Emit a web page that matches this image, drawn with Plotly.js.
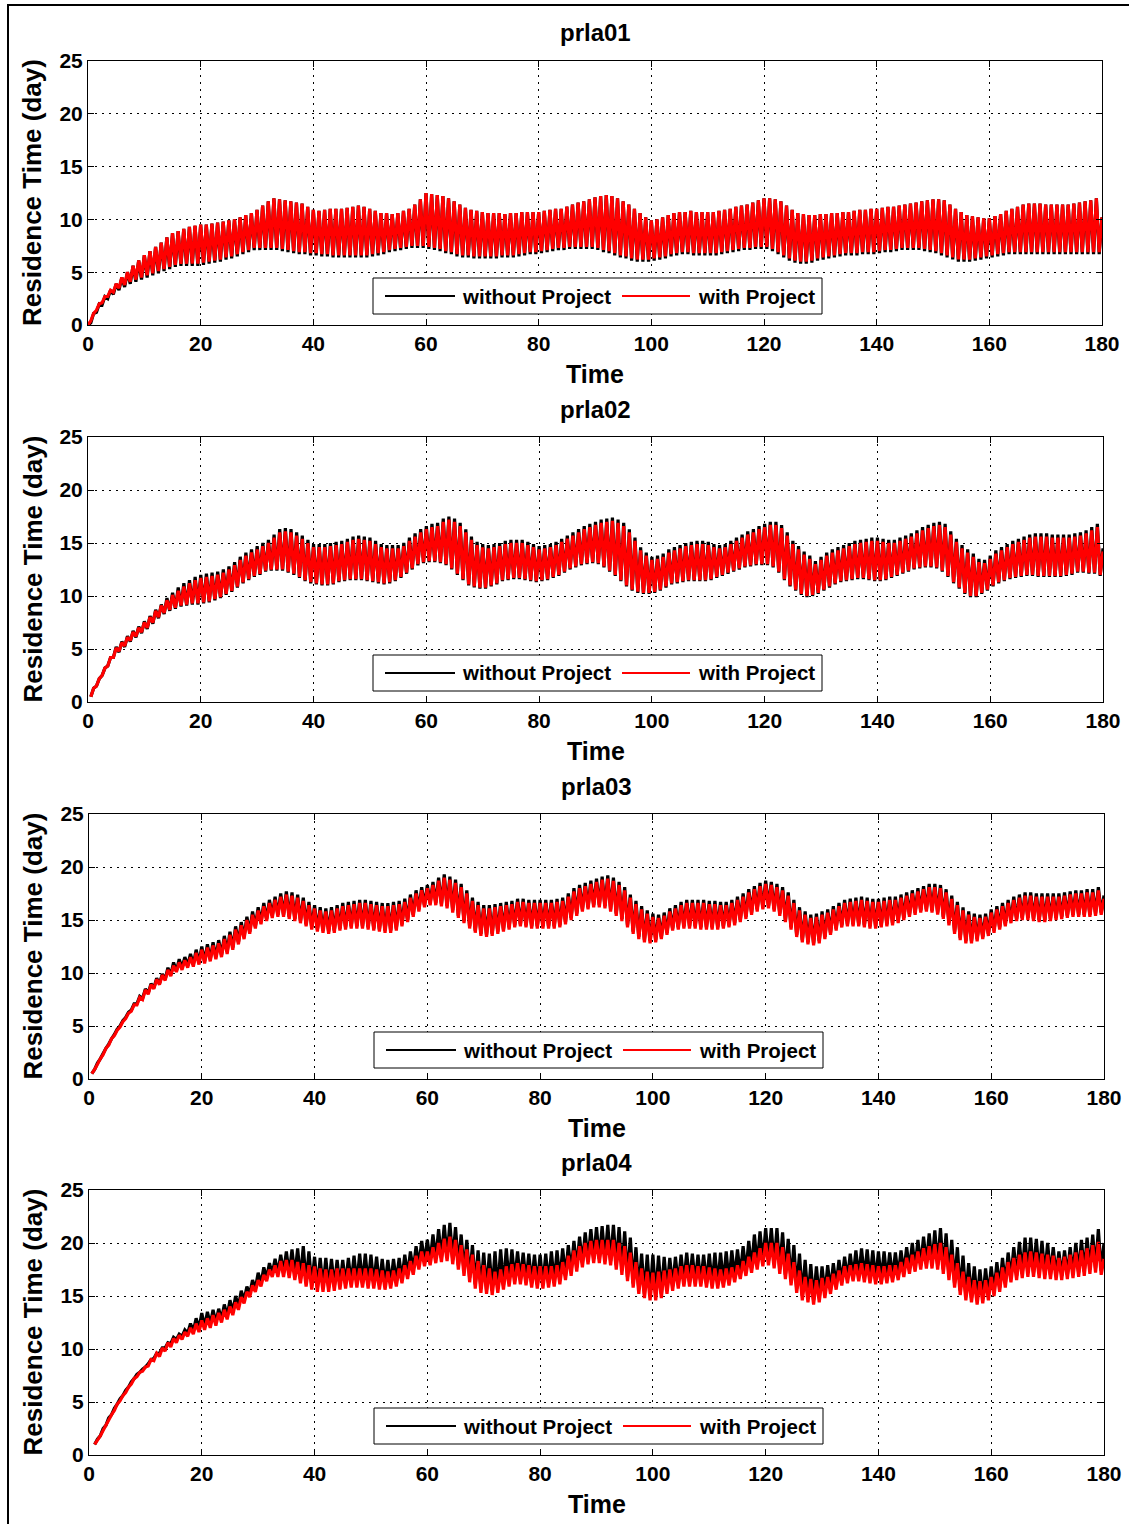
<!DOCTYPE html>
<html>
<head>
<meta charset="utf-8">
<script src="https://cdn.plot.ly/plotly-3.0.1.min.js"></script>
<style>
html,body{margin:0;padding:0;background:#fff;}
#wrap{position:relative;width:1129px;height:1524px;overflow:hidden;}
#chart{position:absolute;left:0;top:0;width:1129px;height:1524px;}
#frame{position:absolute;left:7px;top:4px;width:1140px;height:1540px;border-left:2px solid #000;border-top:2px solid #000;pointer-events:none;}
</style>
</head>
<body>
<div id="wrap"><div id="chart"></div><div id="frame"></div></div>
<script>
// ---------------- data ----------------
const panelTitles = ["prla01", "prla02", "prla03", "prla04"];
const seriesNames = ["without Project", "with Project"];
const xTicks = [0, 20, 40, 60, 80, 100, 120, 140, 160, 180];
const yTicks = [0, 5, 10, 15, 20, 25];

// daily maxima (t = 0..180) and half-day minima (t = 0.5..179.5)
const p1WithHi = [0,1.1,2.0,2.7,3.3,3.9,4.5,5.0,5.6,6.1,6.6,
7.0,7.4,7.8,8.3,8.7,8.9,9.1,9.3,9.4,9.5,
9.5,9.6,9.7,9.8,9.9,10.0,10.2,10.4,10.6,10.9,
11.3,11.7,12.0,11.9,11.8,11.7,11.6,11.5,11.2,10.9,
10.8,10.9,11.0,11.0,11.0,11.1,11.2,11.3,11.2,11.0,
10.8,10.6,10.6,10.5,10.6,10.8,11.0,11.4,11.9,12.5,
12.4,12.3,12.2,12.0,11.7,11.4,11.1,10.9,10.8,10.7,
10.6,10.6,10.6,10.5,10.6,10.6,10.7,10.7,10.7,10.7,
10.8,10.9,11.0,11.0,11.2,11.4,11.6,11.7,11.9,12.1,
12.2,12.3,12.2,12.0,11.7,11.4,11.0,10.6,10.2,9.9,
10.0,10.2,10.4,10.6,10.7,10.7,10.8,10.7,10.7,10.7,
10.7,10.8,10.9,11.0,11.2,11.3,11.4,11.6,11.8,12.0,
12.0,11.9,11.7,11.3,10.9,10.6,10.5,10.4,10.4,10.5,
10.5,10.6,10.6,10.7,10.7,10.8,10.9,10.9,11.0,11.0,
11.1,11.2,11.2,11.3,11.4,11.5,11.6,11.7,11.8,11.9,
11.9,11.8,11.4,11.0,10.7,10.4,10.3,10.2,10.1,10.1,
10.3,10.5,10.8,11.0,11.2,11.4,11.5,11.5,11.5,11.4,
11.4,11.4,11.4,11.4,11.5,11.6,11.7,11.8,12.0,10.2];
const p1WithLo = [0.4,1.4,2.1,2.7,3.1,3.5,3.8,4.1,4.3,4.5,
4.7,4.9,5.1,5.3,5.5,5.7,5.8,5.8,5.8,5.8,
5.9,6.0,6.1,6.2,6.4,6.5,6.7,6.9,7.1,7.3,
7.3,7.3,7.3,7.3,7.2,7.1,7.0,6.9,6.9,6.8,
6.8,6.7,6.7,6.6,6.6,6.6,6.6,6.6,6.6,6.6,
6.7,6.8,6.9,7.1,7.2,7.3,7.4,7.5,7.5,7.5,
7.4,7.3,7.2,7.0,6.9,6.7,6.6,6.6,6.5,6.5,
6.5,6.5,6.5,6.6,6.6,6.6,6.7,6.8,6.9,6.9,
7.0,7.1,7.2,7.3,7.3,7.4,7.4,7.4,7.4,7.4,
7.3,7.1,7.0,6.8,6.6,6.5,6.3,6.2,6.2,6.2,
6.3,6.4,6.5,6.7,6.8,6.9,6.9,6.8,6.8,6.8,
6.8,6.8,6.9,7.0,7.1,7.2,7.3,7.3,7.4,7.4,
7.4,7.2,6.9,6.6,6.3,6.1,6.0,6.0,6.1,6.3,
6.4,6.5,6.6,6.7,6.8,6.8,6.8,6.9,6.9,6.9,
7.0,7.1,7.1,7.2,7.3,7.3,7.3,7.3,7.2,7.1,
7.0,6.8,6.6,6.4,6.2,6.2,6.2,6.3,6.4,6.5,
6.6,6.7,6.8,6.9,6.9,6.9,6.9,6.9,6.9,6.9,
6.9,6.9,6.9,6.9,6.9,6.9,6.9,6.9,6.9,6.9];
const p1WithoutHi = [0,1.1,2.0,2.7,3.3,3.9,4.5,5.0,5.6,6.1,6.6,
7.0,7.4,7.8,8.3,8.7,8.9,9.1,9.3,9.4,9.5,
9.5,9.6,9.7,9.8,9.9,10.0,10.2,10.4,10.6,10.9,
11.3,11.7,12.0,11.9,11.8,11.7,11.6,11.5,11.2,10.9,
10.8,10.9,11.0,11.0,11.0,11.1,11.2,11.3,11.2,11.0,
10.8,10.6,10.6,10.5,10.6,10.8,11.0,11.4,11.9,12.5,
12.4,12.3,12.2,12.0,11.7,11.4,11.1,10.9,10.8,10.7,
10.6,10.6,10.6,10.5,10.6,10.6,10.7,10.7,10.7,10.7,
10.8,10.9,11.0,11.0,11.2,11.4,11.6,11.7,11.9,12.1,
12.2,12.3,12.2,12.0,11.7,11.4,11.0,10.6,10.2,9.9,
10.0,10.2,10.4,10.6,10.7,10.7,10.8,10.7,10.7,10.7,
10.7,10.8,10.9,11.0,11.2,11.3,11.4,11.6,11.8,12.0,
12.0,11.9,11.7,11.3,10.9,10.6,10.5,10.4,10.4,10.5,
10.5,10.6,10.6,10.7,10.7,10.8,10.9,10.9,11.0,11.0,
11.1,11.2,11.2,11.3,11.4,11.5,11.6,11.7,11.8,11.9,
11.9,11.8,11.4,11.0,10.7,10.4,10.3,10.2,10.1,10.1,
10.3,10.5,10.8,11.0,11.2,11.4,11.5,11.5,11.5,11.4,
11.4,11.4,11.4,11.4,11.5,11.6,11.7,11.8,12.0,10.2];
const p1WithoutLo = [0.2,1.2,1.9,2.5,2.9,3.3,3.6,3.9,4.1,4.3,
4.5,4.7,4.9,5.1,5.3,5.5,5.6,5.6,5.6,5.6,
5.7,5.8,5.9,6.0,6.2,6.3,6.5,6.7,6.9,7.1,
7.1,7.1,7.1,7.1,7.0,6.9,6.8,6.7,6.7,6.6,
6.6,6.5,6.5,6.4,6.4,6.4,6.4,6.4,6.4,6.4,
6.5,6.6,6.7,6.9,7.0,7.1,7.2,7.3,7.3,7.3,
7.2,7.1,7.0,6.8,6.7,6.5,6.4,6.4,6.3,6.3,
6.3,6.3,6.3,6.4,6.4,6.4,6.5,6.6,6.7,6.7,
6.8,6.9,7.0,7.1,7.1,7.2,7.2,7.2,7.2,7.2,
7.1,6.9,6.8,6.6,6.4,6.3,6.1,6.0,6.0,6.0,
6.1,6.2,6.3,6.5,6.6,6.7,6.7,6.6,6.6,6.6,
6.6,6.6,6.7,6.8,6.9,7.0,7.1,7.1,7.2,7.2,
7.2,7.0,6.7,6.4,6.1,5.9,5.8,5.8,5.9,6.1,
6.2,6.3,6.4,6.5,6.6,6.6,6.6,6.7,6.7,6.7,
6.8,6.9,6.9,7.0,7.1,7.1,7.1,7.1,7.0,6.9,
6.8,6.6,6.4,6.2,6.0,6.0,6.0,6.1,6.2,6.3,
6.4,6.5,6.6,6.7,6.7,6.7,6.7,6.7,6.7,6.7,
6.7,6.7,6.7,6.7,6.7,6.7,6.7,6.7,6.7,6.7];

const p2WithoutHi = [null,1.3,2.2,3.2,4.2,5.2,5.7,6.2,6.7,7.1,7.6,
8.1,8.7,9.2,9.8,10.3,10.8,11.2,11.5,11.8,12.0,
12.1,12.2,12.3,12.5,12.8,13.2,13.7,14.1,14.4,14.7,
15.0,15.3,15.8,16.3,16.4,16.3,16.0,15.7,15.3,14.9,
14.9,14.9,15.0,15.1,15.2,15.4,15.6,15.7,15.6,15.5,
15.2,14.9,14.8,14.8,14.8,15.0,15.5,15.9,16.3,16.6,
16.8,16.9,17.3,17.5,17.3,16.9,16.3,15.6,15.1,14.9,
14.8,14.9,15.0,15.2,15.3,15.3,15.3,15.1,14.9,14.7,
14.8,14.9,15.1,15.4,15.7,16.0,16.3,16.6,16.8,17.0,
17.2,17.3,17.4,17.2,16.9,16.3,15.5,14.6,14.1,13.7,
13.8,14.0,14.4,14.6,14.8,15.0,15.1,15.2,15.2,15.1,
14.9,14.8,14.9,15.2,15.5,15.8,16.1,16.3,16.6,16.8,
17.0,17.0,16.7,16.0,15.2,14.7,14.2,13.8,13.3,13.7,
14.1,14.4,14.6,14.8,15.0,15.2,15.3,15.4,15.5,15.5,
15.4,15.3,15.3,15.5,15.7,15.9,16.2,16.5,16.7,16.9,
17.0,16.8,16.1,15.4,14.8,14.4,14.0,13.5,13.4,13.8,
14.3,14.6,14.9,15.2,15.4,15.6,15.8,15.9,15.9,15.9,
15.8,15.8,15.8,15.8,15.9,16.0,16.2,16.5,16.8,14.5];
const p2WithoutLo = [0.5,1.5,2.5,3.4,4.2,4.7,5.2,5.7,6.1,6.5,
6.9,7.4,7.9,8.3,8.6,8.8,9.0,9.1,9.2,9.2,
9.3,9.4,9.6,9.8,10.1,10.4,10.8,11.2,11.5,11.8,
12.0,12.3,12.4,12.4,12.4,12.2,12.0,11.7,11.4,11.2,
11.1,11.0,11.0,11.1,11.3,11.4,11.5,11.5,11.5,11.4,
11.3,11.2,11.1,11.2,11.4,11.7,12.1,12.5,12.9,13.1,
13.2,13.2,13.1,12.9,12.5,12.0,11.5,11.0,10.8,10.7,
10.7,10.9,11.1,11.4,11.5,11.6,11.6,11.5,11.4,11.3,
11.4,11.5,11.7,11.9,12.2,12.5,12.7,12.9,13.0,13.1,
13.0,12.7,12.3,11.9,11.4,10.9,10.5,10.3,10.2,10.2,
10.3,10.5,10.8,11.1,11.2,11.3,11.4,11.4,11.4,11.4,
11.5,11.7,11.9,12.1,12.3,12.5,12.7,12.8,12.9,12.9,
12.9,12.7,12.2,11.5,10.9,10.5,10.1,9.9,10.0,10.2,
10.5,10.8,11.1,11.3,11.4,11.5,11.6,11.6,11.5,11.4,
11.4,11.5,11.7,11.9,12.1,12.3,12.5,12.6,12.7,12.7,
12.6,12.3,11.8,11.2,10.7,10.2,9.9,9.9,10.2,10.5,
10.9,11.2,11.4,11.6,11.7,11.8,11.9,11.9,11.8,11.8,
11.8,11.8,11.8,11.9,12.0,12.2,12.2,12.1,12.1,11.9];
const p2WithHi = [null,1.3,2.2,3.2,4.2,5.1,5.6,6.1,6.6,7.0,7.5,
8.0,8.6,9.1,9.6,10.1,10.5,10.9,11.2,11.5,11.7,
11.8,11.9,12.0,12.2,12.5,12.9,13.4,13.8,14.1,14.4,
14.7,15.0,15.5,16.0,16.1,16.0,15.7,15.4,15.0,14.6,
14.6,14.6,14.7,14.8,14.9,15.1,15.3,15.4,15.3,15.2,
14.9,14.6,14.5,14.5,14.5,14.7,15.2,15.6,16.0,16.3,
16.5,16.6,17.0,17.2,17.0,16.6,16.0,15.3,14.8,14.6,
14.5,14.6,14.7,14.9,15.0,15.0,15.0,14.8,14.6,14.4,
14.5,14.6,14.8,15.1,15.4,15.7,16.0,16.3,16.5,16.7,
16.9,17.0,17.1,16.9,16.6,16.0,15.2,14.3,13.8,13.4,
13.5,13.7,14.1,14.3,14.5,14.7,14.8,14.9,14.9,14.8,
14.6,14.5,14.6,14.9,15.2,15.5,15.8,16.0,16.3,16.5,
16.7,16.7,16.4,15.7,14.9,14.4,13.9,13.5,13.0,13.4,
13.8,14.1,14.3,14.5,14.7,14.9,15.0,15.1,15.2,15.2,
15.1,15.0,15.0,15.2,15.4,15.6,15.9,16.2,16.4,16.6,
16.7,16.5,15.8,15.1,14.5,14.1,13.7,13.2,13.1,13.5,
14.0,14.3,14.6,14.9,15.1,15.3,15.5,15.6,15.6,15.6,
15.5,15.5,15.5,15.5,15.6,15.7,15.9,16.2,16.5,14.2];
const p2WithLo = [0.5,1.5,2.5,3.4,4.2,4.8,5.3,5.8,6.2,6.6,
7.0,7.5,8.0,8.4,8.7,8.9,9.1,9.2,9.3,9.3,
9.4,9.5,9.7,9.9,10.2,10.5,10.9,11.3,11.6,11.9,
12.1,12.4,12.5,12.5,12.5,12.3,12.1,11.8,11.5,11.3,
11.2,11.1,11.1,11.2,11.4,11.5,11.6,11.6,11.6,11.5,
11.4,11.3,11.2,11.3,11.5,11.8,12.2,12.6,13.0,13.2,
13.3,13.3,13.2,13.0,12.6,12.1,11.6,11.1,10.9,10.8,
10.8,11.0,11.2,11.5,11.6,11.7,11.7,11.6,11.5,11.4,
11.5,11.6,11.8,12.0,12.3,12.6,12.8,13.0,13.1,13.2,
13.1,12.8,12.4,12.0,11.5,11.0,10.6,10.4,10.3,10.3,
10.4,10.6,10.9,11.2,11.3,11.4,11.5,11.5,11.5,11.5,
11.6,11.8,12.0,12.2,12.4,12.6,12.8,12.9,13.0,13.0,
13.0,12.8,12.3,11.6,11.0,10.6,10.2,10.0,10.1,10.3,
10.6,10.9,11.2,11.4,11.5,11.6,11.7,11.7,11.6,11.5,
11.5,11.6,11.8,12.0,12.2,12.4,12.6,12.7,12.8,12.8,
12.7,12.4,11.9,11.3,10.8,10.3,10.0,10.0,10.3,10.6,
11.0,11.3,11.5,11.7,11.8,11.9,12.0,12.0,11.9,11.9,
11.9,11.9,11.9,12.0,12.1,12.3,12.3,12.2,12.2,12.0];

const p3WithoutHi = [null,0.9,1.9,2.9,3.8,4.7,5.5,6.3,7.1,7.8,8.5,
9.0,9.5,9.9,10.5,11.0,11.3,11.5,11.8,12.2,12.5,
12.7,12.9,13.1,13.5,13.9,14.4,14.8,15.3,15.8,16.2,
16.6,16.9,17.2,17.5,17.7,17.6,17.4,17.1,16.7,16.4,
16.2,16.1,16.2,16.4,16.6,16.7,16.8,16.9,16.9,16.8,
16.7,16.6,16.6,16.7,16.8,17.0,17.4,17.8,18.1,18.3,
18.6,19.0,19.3,19.1,18.8,18.4,17.8,17.1,16.7,16.4,
16.4,16.5,16.6,16.7,16.8,17.0,17.0,16.9,16.9,16.9,
16.9,16.9,17.0,17.1,17.5,18.0,18.3,18.5,18.7,18.9,
19.1,19.2,19.0,18.6,18.1,17.4,16.8,16.3,15.9,15.6,
15.5,15.7,16.1,16.4,16.7,16.9,16.9,16.9,16.9,16.8,
16.8,16.7,16.7,16.9,17.2,17.5,17.9,18.2,18.5,18.7,
18.6,18.4,18.1,17.6,16.9,16.2,15.8,15.5,15.6,15.8,
16.0,16.3,16.6,16.9,17.0,17.1,17.2,17.1,17.0,17.0,
17.1,17.2,17.2,17.4,17.6,17.8,18.0,18.2,18.4,18.4,
18.3,17.9,17.3,16.7,16.2,15.8,15.6,15.5,15.6,16.0,
16.3,16.6,16.9,17.2,17.4,17.6,17.6,17.5,17.5,17.5,
17.5,17.5,17.6,17.7,17.8,17.8,17.9,17.9,18.1,17.3];
const p3WithoutLo = [0.5,1.5,2.4,3.3,4.2,5.0,5.8,6.5,7.1,7.6,
8.1,8.6,9.0,9.4,9.8,10.2,10.5,10.7,10.8,11.0,
11.1,11.3,11.5,11.7,12.0,12.4,12.9,13.4,13.9,14.4,
14.8,15.1,15.4,15.5,15.5,15.3,15.1,14.9,14.6,14.3,
14.1,14.0,13.9,14.0,14.2,14.3,14.4,14.4,14.4,14.3,
14.2,14.1,14.0,14.0,14.2,14.6,15.0,15.5,16.0,16.4,
16.6,16.6,16.5,16.3,15.9,15.4,14.9,14.4,14.0,13.7,
13.6,13.7,13.9,14.1,14.3,14.5,14.6,14.5,14.4,14.4,
14.4,14.4,14.4,14.5,14.8,15.2,15.6,16.0,16.2,16.4,
16.4,16.3,16.0,15.6,15.1,14.5,13.9,13.4,13.1,13.0,
13.1,13.4,13.8,14.2,14.3,14.4,14.4,14.4,14.3,14.3,
14.3,14.3,14.4,14.5,14.7,15.0,15.3,15.7,16.0,16.2,
16.3,16.0,15.6,15.0,14.3,13.6,13.1,12.9,12.8,13.0,
13.4,13.8,14.2,14.5,14.6,14.6,14.6,14.5,14.4,14.4,
14.5,14.6,14.7,14.9,15.2,15.5,15.7,15.9,16.0,15.9,
15.7,15.3,14.7,13.9,13.3,13.0,13.0,13.2,13.4,13.7,
14.0,14.3,14.6,14.9,15.1,15.2,15.2,15.1,15.0,15.0,
15.1,15.2,15.3,15.4,15.5,15.5,15.5,15.5,15.6,15.7];
const p3WithHi = [null,0.9,1.9,2.9,3.8,4.6,5.4,6.2,7.0,7.7,8.4,
8.9,9.4,9.8,10.3,10.7,11.0,11.2,11.5,11.9,12.2,
12.4,12.6,12.8,13.2,13.6,14.1,14.5,15.0,15.5,15.9,
16.3,16.6,16.9,17.2,17.4,17.3,17.1,16.8,16.4,16.1,
15.9,15.8,15.9,16.1,16.3,16.4,16.5,16.6,16.6,16.5,
16.4,16.3,16.3,16.4,16.5,16.7,17.1,17.5,17.8,18.0,
18.3,18.7,19.0,18.8,18.5,18.1,17.5,16.8,16.4,16.1,
16.1,16.2,16.3,16.4,16.5,16.7,16.7,16.6,16.6,16.6,
16.6,16.6,16.7,16.8,17.2,17.7,18.0,18.2,18.4,18.6,
18.8,18.9,18.7,18.3,17.8,17.1,16.5,16.0,15.6,15.3,
15.2,15.4,15.8,16.1,16.4,16.6,16.6,16.6,16.6,16.5,
16.5,16.4,16.4,16.6,16.9,17.2,17.6,17.9,18.2,18.4,
18.3,18.1,17.8,17.3,16.6,15.9,15.5,15.2,15.3,15.5,
15.7,16.0,16.3,16.6,16.7,16.8,16.9,16.8,16.7,16.7,
16.8,16.9,16.9,17.1,17.3,17.5,17.7,17.9,18.1,18.1,
18.0,17.6,17.0,16.4,15.9,15.5,15.3,15.2,15.3,15.7,
16.0,16.3,16.6,16.9,17.1,17.3,17.3,17.2,17.2,17.2,
17.2,17.2,17.3,17.4,17.5,17.5,17.6,17.6,17.8,17.0];
const p3WithLo = [0.5,1.4,2.3,3.2,4.1,4.9,5.7,6.4,7.0,7.5,
8.0,8.5,8.9,9.3,9.7,10.1,10.3,10.5,10.6,10.8,
10.9,11.1,11.3,11.5,11.8,12.2,12.7,13.2,13.7,14.2,
14.6,14.9,15.2,15.3,15.3,15.1,14.9,14.7,14.4,14.1,
13.9,13.8,13.7,13.8,14.0,14.1,14.2,14.2,14.2,14.1,
14.0,13.9,13.8,13.8,14.0,14.4,14.8,15.3,15.8,16.2,
16.4,16.4,16.3,16.1,15.7,15.2,14.7,14.2,13.8,13.5,
13.4,13.5,13.7,13.9,14.1,14.3,14.4,14.3,14.2,14.2,
14.2,14.2,14.2,14.3,14.6,15.0,15.4,15.8,16.0,16.2,
16.2,16.1,15.8,15.4,14.9,14.3,13.7,13.2,12.9,12.8,
12.9,13.2,13.6,14.0,14.1,14.2,14.2,14.2,14.1,14.1,
14.1,14.1,14.2,14.3,14.5,14.8,15.1,15.5,15.8,16.0,
16.1,15.8,15.4,14.8,14.1,13.4,12.9,12.7,12.6,12.8,
13.2,13.6,14.0,14.3,14.4,14.4,14.4,14.3,14.2,14.2,
14.3,14.4,14.5,14.7,15.0,15.3,15.5,15.7,15.8,15.7,
15.5,15.1,14.5,13.7,13.1,12.8,12.8,13.0,13.2,13.5,
13.8,14.1,14.4,14.7,14.9,15.0,15.0,14.9,14.8,14.8,
14.9,15.0,15.1,15.2,15.3,15.3,15.3,15.3,15.4,15.5];

const p4WithoutHi = [null,1.0,1.8,2.8,3.8,4.8,5.6,6.4,7.2,7.8,8.3,
9.0,9.6,10.1,10.6,11.1,11.4,11.8,12.4,12.9,13.4,
13.5,13.7,13.8,14.2,14.6,15.0,15.5,15.9,16.5,17.2,
17.7,18.1,18.5,18.9,19.2,19.4,19.5,19.7,19.2,18.7,
18.6,18.6,18.5,18.4,18.4,18.6,18.8,19.0,19.0,18.9,
18.7,18.5,18.4,18.5,18.6,18.9,19.2,19.7,20.2,20.3,
20.8,21.3,21.7,21.9,21.5,20.8,20.3,19.8,19.3,19.1,
19.0,19.2,19.4,19.5,19.4,19.2,19.1,19.0,18.9,18.9,
19.0,19.2,19.3,19.5,19.8,20.2,20.6,21.0,21.3,21.5,
21.6,21.7,21.7,21.5,21.1,20.5,19.6,19.0,18.9,18.9,
18.8,18.7,18.6,18.7,18.9,19.1,19.0,18.9,18.9,19.0,
19.1,19.1,19.2,19.3,19.4,19.7,20.2,20.8,21.1,21.4,
21.4,21.4,21.0,20.4,19.8,19.0,18.4,18.0,17.8,17.8,
17.9,18.1,18.4,18.7,19.0,19.3,19.5,19.4,19.3,19.2,
19.2,19.1,19.1,19.3,19.6,20.0,20.3,20.6,20.9,21.2,
21.4,20.9,20.3,19.6,18.8,18.1,17.8,17.5,17.6,17.8,
18.2,18.6,19.1,19.6,20.1,20.5,20.5,20.4,20.2,20.0,
19.6,19.2,19.3,19.6,20.0,20.3,20.5,20.8,21.3,20.0];
const p4WithoutLo = [null,1.5,2.5,3.5,4.4,5.3,6.1,6.9,7.6,8.1,
8.6,9.1,9.6,10.1,10.5,10.9,11.2,11.5,11.7,11.9,
12.1,12.3,12.5,12.8,13.1,13.5,14.0,14.6,15.2,15.7,
16.2,16.7,17.1,17.2,17.2,17.1,16.9,16.6,16.3,16.0,
15.8,15.8,15.8,15.9,16.0,16.1,16.2,16.2,16.2,16.1,
16.1,16.0,16.0,16.1,16.3,16.6,17.0,17.4,17.9,18.2,
18.3,18.5,18.6,18.7,18.4,17.9,17.3,16.7,16.1,15.7,
15.6,15.5,15.7,16.0,16.3,16.5,16.5,16.4,16.2,16.1,
16.1,16.2,16.3,16.5,16.9,17.3,17.7,18.1,18.4,18.5,
18.5,18.4,18.3,17.9,17.4,16.8,16.2,15.6,15.2,15.0,
15.0,15.2,15.6,15.9,16.1,16.3,16.3,16.3,16.3,16.2,
16.1,16.1,16.2,16.4,16.7,17.0,17.3,17.6,17.9,18.2,
18.3,18.0,17.5,17.0,16.4,15.7,15.0,14.8,14.6,14.8,
15.2,15.6,16.0,16.4,16.6,16.8,16.8,16.7,16.6,16.5,
16.5,16.6,16.7,16.9,17.2,17.5,17.7,17.9,18.0,18.0,
17.9,17.5,16.9,16.2,15.5,15.0,14.8,14.6,14.7,15.0,
15.4,15.8,16.2,16.7,16.9,17.1,17.2,17.2,17.1,17.0,
17.0,16.9,16.9,17.0,17.1,17.2,17.3,17.5,17.6,17.4];
const p4WithHi = [null,1.0,1.8,2.8,3.8,4.8,5.6,6.4,7.2,7.8,8.3,
9.0,9.6,10.1,10.6,11.0,11.3,11.6,12.0,12.4,12.7,
12.9,13.2,13.4,13.7,14.0,14.4,14.9,15.4,16.0,16.5,
17.0,17.5,17.9,18.3,18.4,18.4,18.2,18.1,17.9,17.8,
17.6,17.5,17.5,17.6,17.6,17.6,17.6,17.6,17.6,17.6,
17.5,17.4,17.3,17.4,17.6,17.9,18.3,18.8,19.2,19.2,
19.6,20.0,20.4,20.6,20.3,19.8,19.4,18.9,18.3,17.9,
17.6,17.3,17.5,17.8,18.0,18.1,18.0,17.9,17.8,17.8,
17.8,17.8,17.9,18.2,18.8,19.3,19.7,20.0,20.2,20.3,
20.3,20.3,20.3,20.0,19.7,19.1,18.2,17.6,17.3,17.2,
17.3,17.4,17.5,17.6,17.8,17.9,17.9,17.8,17.8,17.7,
17.6,17.5,17.6,17.7,17.9,18.3,18.7,19.1,19.5,20.0,
20.0,20.0,19.6,19.0,18.2,17.4,16.8,16.6,16.5,16.7,
16.8,17.1,17.4,17.8,17.9,18.0,18.1,18.0,17.9,17.8,
17.8,17.9,17.9,18.2,18.6,18.9,19.2,19.5,19.7,19.9,
20.0,19.6,18.9,18.1,17.3,16.8,16.5,16.4,16.5,16.8,
17.2,17.7,18.2,18.6,18.9,19.1,19.2,19.1,19.0,18.9,
18.8,18.6,18.7,18.9,19.1,19.3,19.5,19.8,20.1,18.5];
const p4WithLo = [null,1.4,2.3,3.3,4.2,5.1,5.9,6.7,7.4,7.9,
8.4,8.9,9.3,9.8,10.2,10.6,10.9,11.2,11.4,11.6,
11.8,12.0,12.2,12.5,12.8,13.2,13.7,14.3,14.9,15.4,
15.9,16.4,16.8,16.8,16.8,16.7,16.5,16.2,15.9,15.6,
15.4,15.4,15.4,15.5,15.6,15.7,15.8,15.8,15.8,15.7,
15.7,15.6,15.6,15.7,15.9,16.2,16.6,17.0,17.5,17.8,
17.9,18.1,18.2,18.3,18.0,17.5,16.9,16.3,15.7,15.3,
15.2,15.1,15.3,15.6,15.9,16.1,16.1,16.0,15.8,15.7,
15.7,15.8,15.9,16.1,16.5,16.9,17.3,17.7,18.0,18.1,
18.1,18.0,17.9,17.5,17.0,16.4,15.8,15.2,14.8,14.6,
14.6,14.8,15.2,15.5,15.7,15.9,15.9,15.9,15.9,15.8,
15.7,15.7,15.8,16.0,16.3,16.6,16.9,17.2,17.5,17.8,
17.9,17.6,17.1,16.6,16.0,15.3,14.6,14.4,14.2,14.4,
14.8,15.2,15.6,16.0,16.2,16.4,16.4,16.3,16.2,16.1,
16.1,16.2,16.3,16.5,16.8,17.1,17.3,17.5,17.6,17.6,
17.5,17.1,16.5,15.8,15.1,14.6,14.4,14.2,14.3,14.6,
15.0,15.4,15.8,16.3,16.5,16.7,16.8,16.8,16.7,16.6,
16.6,16.5,16.5,16.6,16.7,16.8,16.9,17.1,17.2,17.0];

const panelSeries = [
  [p1WithoutHi, p1WithoutLo, p1WithHi, p1WithLo],
  [p2WithoutHi, p2WithoutLo, p2WithHi, p2WithLo],
  [p3WithoutHi, p3WithoutLo, p3WithHi, p3WithLo],
  [p4WithoutHi, p4WithoutLo, p4WithHi, p4WithLo]
];
const seriesColors = ["#000000", "#ff0000"];

// ---------------- build figure ----------------
const W = 1129, H = 1524;
const FONT = "Liberation Sans, Arial, Helvetica, sans-serif";
// plot areas in pixels [x0, x1, yTop, yBottom]
const boxes = [[88,1102,61,325],[88,1103,437,702],[89,1104,814,1079],[89,1104,1190,1455]];
const px = v => v / W;
const py = v => 1 - v / H;

function zig(hi, lo) {
  const x = [], y = [];
  for (let i = 0; i < hi.length; i++) {
    x.push(i); y.push(hi[i]);
    if (i < lo.length) { x.push(i + 0.5); y.push(lo[i]); }
  }
  return {x, y};
}

const traces = [];
const layout = {
  width: W, height: H,
  margin: {l:0, r:0, t:0, b:0},
  paper_bgcolor: "#fff", plot_bgcolor: "#fff",
  showlegend: false,
  font: {family: FONT, color: "#000"},
  annotations: [], shapes: []
};

panelSeries.forEach((ser, k) => {
  const sfx = k === 0 ? "" : String(k + 1);
  const b = boxes[k];
  for (let s = 0; s < 2; s++) {
    const z = zig(ser[2*s], ser[2*s+1]);
    traces.push({
      type: "scatter", mode: "lines", x: z.x, y: z.y,
      xaxis: "x" + sfx, yaxis: "y" + sfx,
      name: seriesNames[s],
      line: {color: seriesColors[s], width: 3.2, simplify: false},
      hoverinfo: "skip"
    });
  }
  const common = {
    ticks: "inside", ticklen: 6, tickwidth: 1, tickcolor: "#000",
    showline: true, linecolor: "#000", linewidth: 1, mirror: "ticks",
    showgrid: true, gridcolor: "#000", griddash: "2px,5px", gridwidth: 1,
    zeroline: false, fixedrange: true,
    tickfont: {family: FONT, size: 21, color: "#000", weight: "bold"}
  };
  layout["xaxis" + sfx] = Object.assign({}, common, {
    domain: [px(b[0]), px(b[1])], anchor: "y" + sfx,
    range: [0, 180], tickvals: xTicks, ticktext: xTicks.map(String)
  });
  layout["yaxis" + sfx] = Object.assign({}, common, {
    domain: [py(b[3]), py(b[2])], anchor: "x" + sfx,
    range: [0, 25], tickvals: yTicks, ticktext: yTicks.map(String)
  });
  const cx = (b[0] + b[1]) / 2;
  // panel title
  layout.annotations.push({xref:"paper", yref:"paper", x: px(cx), y: py(b[2] - 28),
    xanchor:"center", yanchor:"middle", showarrow:false,
    text: panelTitles[k], font:{family:FONT, size:24, color:"#000", weight:"bold"}});
  // x title
  layout.annotations.push({xref:"paper", yref:"paper", x: px(cx), y: py(b[3] + 49),
    xanchor:"center", yanchor:"middle", showarrow:false,
    text: "Time", font:{family:FONT, size:25, color:"#000", weight:"bold"}});
  // y title
  layout.annotations.push({xref:"paper", yref:"paper", x: px(32), y: py((b[2] + b[3]) / 2),
    xanchor:"center", yanchor:"middle", showarrow:false, textangle:-90,
    text: "Residence Time (day)", font:{family:FONT, size:26, color:"#000", weight:"bold"}});
  // legend (drawn)
  const lx = b[0] - 88, ly = b[3] - 325;
  layout.shapes.push({type:"rect", xref:"paper", yref:"paper", layer:"above",
    x0: px(373+lx), x1: px(822+lx), y0: py(314+ly), y1: py(278+ly),
    line:{color:"#000", width:1}, fillcolor:"#fff"});
  const yc = 296 + ly;
  const legItems = [[385, 455, 460], [622, 690, 696]];
  legItems.forEach((it, s) => {
    layout.shapes.push({type:"line", xref:"paper", yref:"paper", layer:"above",
      x0: px(it[0]+lx), x1: px(it[1]+lx), y0: py(yc), y1: py(yc),
      line:{color: seriesColors[s], width: 2}});
    layout.annotations.push({xref:"paper", yref:"paper", x: px(it[2]+lx), y: py(yc),
      xanchor:"left", yanchor:"middle", showarrow:false,
      text: seriesNames[s], font:{family:FONT, size:20.5, color:"#000", weight:"bold"}});
  });
});

Plotly.newPlot("chart", traces, layout, {displayModeBar:false, staticPlot:true});
</script>
</body>
</html>
